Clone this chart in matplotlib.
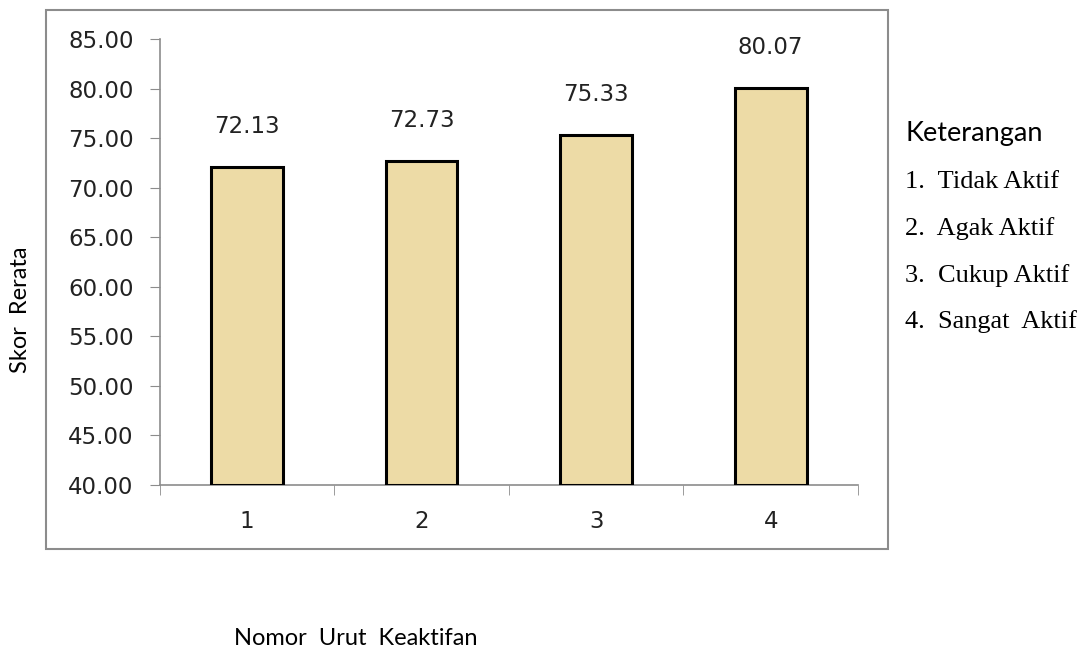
import numpy as np
import matplotlib.pyplot as plt
from matplotlib.patches import Rectangle

# data
categories = ['1', '2', '3', '4']
scores = [72.13, 72.73, 75.33, 80.07]
legend_items = ['1.  Tidak Aktif', '2.  Agak Aktif', '3.  Cukup Aktif', '4.  Sangat  Aktif']

fig = plt.figure(figsize=(10.88, 6.53), dpi=100)

# outer chart border
fig.patches.append(Rectangle((0.0423, 0.1593), 0.7737, 0.8254, transform=fig.transFigure,
                             fill=False, edgecolor='#8c8c8c', linewidth=1.5))

ax = fig.add_axes([0.147, 0.2573, 0.6416, 0.683])
x = np.arange(len(categories))
ax.bar(x, np.array(scores) - 40, bottom=40, width=0.41, color='#EDDBA6',
       edgecolor='black', linewidth=2.2, zorder=3)

for xi, s in zip(x, scores):
    ax.annotate('%.2f' % s, (xi, s), xytext=(0, 29), textcoords='offset points',
                ha='center', va='center', fontsize=16.5, color='#222222')

ax.set_xlim(-0.5, 3.5)
ax.set_ylim(40, 85)
ax.set_yticks(np.arange(40, 86, 5))
ax.set_yticklabels(['%.2f' % v for v in np.arange(40, 86, 5)], fontsize=16.5, color='#222222')
ax.set_xticks(x)
ax.set_xticklabels(categories, fontsize=16.5, color='#222222')
ax.set_xticks(np.arange(-0.5, 4, 1), minor=True)
ax.tick_params(axis='x', which='major', length=0, pad=18)
ax.tick_params(axis='x', which='minor', length=7, color='#8c8c8c', direction='out')
ax.tick_params(axis='y', length=7, color='#8c8c8c', pad=12)

for side in ['top', 'right']:
    ax.spines[side].set_visible(False)
for side in ['left', 'bottom']:
    ax.spines[side].set_color('#8c8c8c')
    ax.spines[side].set_linewidth(1.2)

fig.text(0.019, 0.525, 'Skor  Rerata', rotation=90, ha='center', va='center',
         fontsize=17, family='Lato')
fig.text(0.327, 0.022, 'Nomor  Urut  Keaktifan', ha='center', va='center',
         fontsize=17, family='Lato')

# side notes
fig.text(0.832, 0.796, 'Keterangan', ha='left', va='center', fontsize=19.5, family='Lato')
for i, item in enumerate(legend_items):
    fig.text(0.832, 0.721 - i * 0.0712, item, ha='left', va='center', fontsize=19,
             family='Liberation Serif')

fig.savefig('out.png', dpi=100)
